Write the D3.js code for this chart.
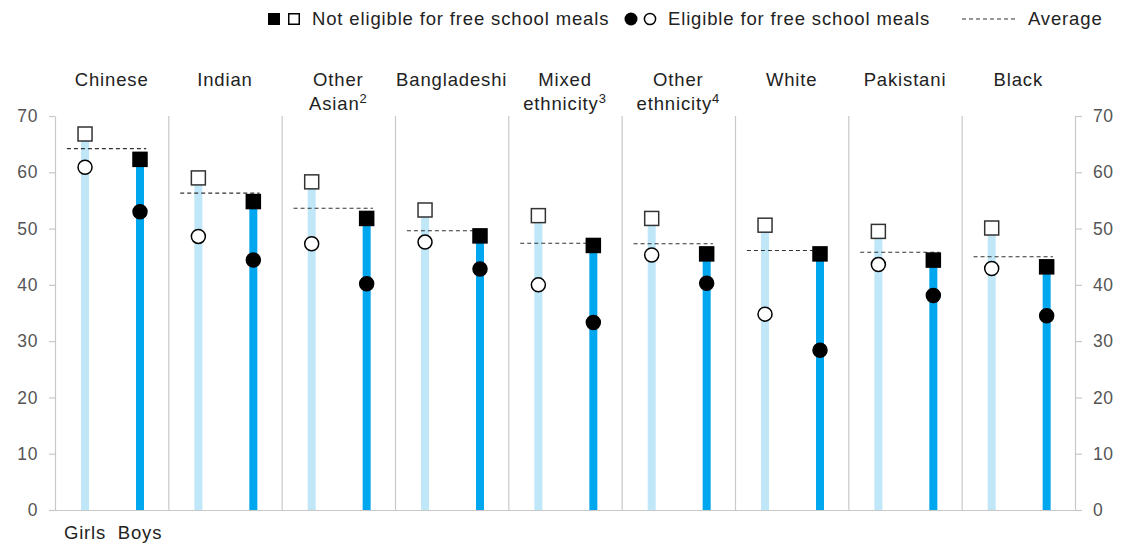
<!DOCTYPE html>
<html>
<head>
<meta charset="utf-8">
<script src="https://cdn.jsdelivr.net/npm/d3@7/dist/d3.min.js"></script>
<style>
  html, body { margin: 0; padding: 0; background: #fff; }
  svg { display: block; font-family: "Liberation Sans", Arial, sans-serif; }
</style>
</head>
<body>
<svg id="chart" width="1127" height="546"></svg>
<script>
// Ethnic groups (label lines, optional superscript note on last line)
const groups = ["Chinese", "Indian", "Other Asian", "Bangladeshi", "Mixed ethnicity",
                "Other ethnicity", "White", "Pakistani", "Black"];
const groupLabels = [
  [["Chinese", ""]],
  [["Indian", ""]],
  [["Other", ""], ["Asian", "2"]],
  [["Bangladeshi", ""]],
  [["Mixed", ""], ["ethnicity", "3"]],
  [["Other", ""], ["ethnicity", "4"]],
  [["White", ""]],
  [["Pakistani", ""]],
  [["Black", ""]]
];
const sexes = ["Girls", "Boys"];

// Scores, %
const girlsNotEligible = [66.8, 59.0, 58.3, 53.3, 52.3, 51.8, 50.6, 49.5, 50.1];
const girlsEligible    = [60.9, 48.6, 47.3, 47.6, 40.0, 45.3, 34.8, 43.6, 42.9];
const boysNotEligible  = [62.3, 54.8, 51.8, 48.7, 47.0, 45.5, 45.5, 44.4, 43.2];
const boysEligible     = [53.0, 44.4, 40.2, 42.8, 33.3, 40.3, 28.4, 38.1, 34.5];
const groupAverage     = [64.2, 56.3, 53.6, 49.6, 47.4, 47.3, 46.1, 45.8, 45.0];

const yTicks = [0, 10, 20, 30, 40, 50, 60, 70];

const svg = d3.select("#chart");
const plotLeft = 55, plotRight = 1075, plotTop = 116, plotBottom = 510;

const x0 = d3.scaleBand().domain(groups).range([plotLeft, plotRight]).padding(0);
const bw = x0.bandwidth();
const x1 = d3.scalePoint().domain(sexes).range([bw * 0.265, bw * 0.75]);
const y = d3.scaleLinear().domain([0, 70]).range([plotBottom, plotTop]);

const gridColor = "#c8c8c8";
const textColor = "#222";
const tickColor = "#555";
const lightBlue = "#bfe7f8";
const darkBlue = "#00a6ee";
const labelSize = 18.5;
const labelSpacing = 0.85;

// Group separators
svg.append("g").selectAll("line")
  .data(groups.slice(1))
  .join("line")
  .attr("x1", d => x0(d) + 0.5).attr("x2", d => x0(d) + 0.5)
  .attr("y1", plotTop).attr("y2", plotBottom)
  .attr("stroke", gridColor).attr("stroke-width", 1.2);

// Axes
function styleAxis(g) {
  g.select(".domain").attr("stroke", gridColor).attr("stroke-width", 1.2);
  g.selectAll(".tick line").attr("stroke", gridColor).attr("stroke-width", 1.2);
  g.selectAll(".tick text").attr("fill", tickColor)
    .attr("font-size", 17.5).attr("letter-spacing", 0.6)
    .attr("font-family", "Liberation Sans, Arial, sans-serif");
}
svg.append("g").attr("transform", `translate(${plotLeft},0)`)
  .call(d3.axisLeft(y).tickValues(yTicks).tickSize(6).tickSizeOuter(0).tickPadding(11))
  .call(styleAxis);
svg.append("g").attr("transform", `translate(${plotRight},0)`)
  .call(d3.axisRight(y).tickValues(yTicks).tickSize(7).tickSizeOuter(0).tickPadding(11))
  .call(styleAxis);

// Baseline
svg.append("line")
  .attr("x1", plotLeft).attr("x2", plotRight)
  .attr("y1", y(0) + 0.5).attr("y2", y(0) + 0.5)
  .attr("stroke", gridColor).attr("stroke-width", 1.2);

// Build rows for each group and sex
const rows = [];
groups.forEach((g, i) => {
  rows.push({ g, sex: "Girls", notElig: girlsNotEligible[i], elig: girlsEligible[i] });
  rows.push({ g, sex: "Boys", notElig: boysNotEligible[i], elig: boysEligible[i] });
});
const cx = d => x0(d.g) + x1(d.sex);

// Bars up to the not-eligible score
const barW = 8;
svg.append("g").selectAll("rect")
  .data(rows)
  .join("rect")
  .attr("x", d => cx(d) - barW / 2)
  .attr("width", barW)
  .attr("y", d => y(d.notElig))
  .attr("height", d => y(0) - y(d.notElig))
  .attr("fill", d => d.sex === "Girls" ? lightBlue : darkBlue);

// Average dashed lines
svg.append("g").selectAll("line")
  .data(groups)
  .join("line")
  .attr("x1", d => x0(d) + bw * 0.105)
  .attr("x2", d => x0(d) + bw * 0.805)
  .attr("y1", (d, i) => y(groupAverage[i]))
  .attr("y2", (d, i) => y(groupAverage[i]))
  .attr("stroke", "#333").attr("stroke-width", 1.1)
  .attr("stroke-dasharray", "4,3");

// Eligible circles
svg.append("g").selectAll("circle")
  .data(rows)
  .join("circle")
  .attr("cx", cx)
  .attr("cy", d => y(d.elig))
  .attr("r", 7)
  .attr("fill", d => d.sex === "Girls" ? "#fff" : "#000")
  .attr("stroke", "#000").attr("stroke-width", 1.5);

// Not-eligible squares
const sq = 14;
svg.append("g").selectAll("rect")
  .data(rows)
  .join("rect")
  .attr("x", d => cx(d) - sq / 2)
  .attr("y", d => y(d.notElig) - sq / 2)
  .attr("width", sq).attr("height", sq)
  .attr("fill", d => d.sex === "Girls" ? "#fff" : "#000")
  .attr("stroke", d => d.sex === "Girls" ? "#333" : "#000")
  .attr("stroke-width", 1.5);

// Group labels
const lbl = svg.append("g").attr("font-size", labelSize).attr("letter-spacing", labelSpacing)
  .attr("fill", textColor).attr("text-anchor", "middle");
groups.forEach((g, i) => {
  groupLabels[i].forEach((line, j) => {
    const t = lbl.append("text")
      .attr("x", x0(g) + bw / 2)
      .attr("y", 86 + j * 24);
    t.append("tspan").text(line[0]);
    if (line[1]) {
      t.append("tspan").attr("font-size", 13).attr("dy", -7).text(line[1]);
    }
  });
});

// Girls / Boys labels under the first group
svg.append("g").selectAll("text")
  .data(sexes)
  .join("text")
  .attr("x", d => x0(groups[0]) + x1(d))
  .attr("y", 539)
  .attr("text-anchor", "middle")
  .attr("font-size", labelSize)
  .attr("letter-spacing", labelSpacing)
  .attr("fill", textColor)
  .text(d => d);

// Legend
const leg = svg.append("g").attr("font-size", labelSize).attr("letter-spacing", labelSpacing)
  .attr("fill", textColor);
const ly = 19;
leg.append("rect").attr("x", 268).attr("y", ly - 6).attr("width", 12).attr("height", 12).attr("fill", "#000");
leg.append("rect").attr("x", 288.75).attr("y", ly - 5.25).attr("width", 10.5).attr("height", 10.5)
  .attr("fill", "#fff").attr("stroke", "#000").attr("stroke-width", 1.5);
leg.append("text").attr("x", 312).attr("y", ly + 6).text("Not eligible for free school meals");
leg.append("circle").attr("cx", 631).attr("cy", ly).attr("r", 6.5).attr("fill", "#000");
leg.append("circle").attr("cx", 650).attr("cy", ly).attr("r", 5.6)
  .attr("fill", "#fff").attr("stroke", "#000").attr("stroke-width", 1.5);
leg.append("text").attr("x", 668).attr("y", ly + 6).text("Eligible for free school meals");
leg.append("line").attr("x1", 962).attr("x2", 1018).attr("y1", ly).attr("y2", ly)
  .attr("stroke", "#333").attr("stroke-width", 1.1).attr("stroke-dasharray", "4,3");
leg.append("text").attr("x", 1028).attr("y", ly + 6).text("Average");
</script>
</body>
</html>
